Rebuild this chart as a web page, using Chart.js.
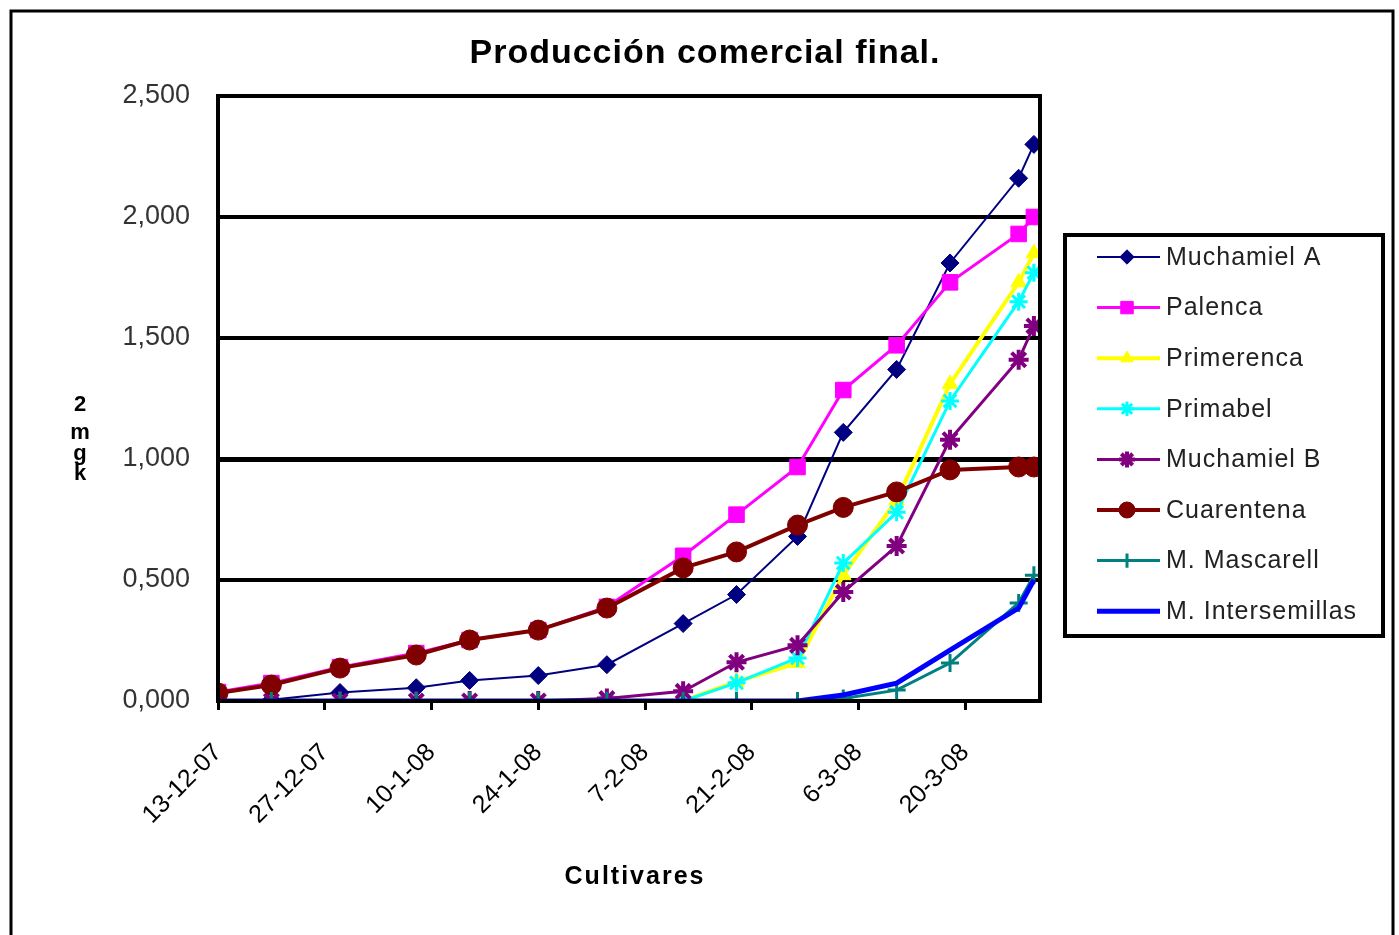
<!DOCTYPE html>
<html lang="es">
<head>
<meta charset="utf-8">
<title>Producción comercial final</title>
<script src="https://cdn.jsdelivr.net/npm/chart.js@4.4.1/dist/chart.umd.min.js"></script>
<style>
  html, body { margin: 0; padding: 0; background: #fff; }
  #grafico { display: block; }
</style>
</head>
<body>
<canvas id="grafico" width="1399" height="935"></canvas>
<script>
// dias contados desde el 13-12-07
const dias = [0, 7, 16, 26, 33, 42, 51, 61, 68, 76, 82, 89, 96, 105, 107];
const etiquetasFecha = ['13-12-07', '27-12-07', '10-1-08', '24-1-08', '7-2-08', '21-2-08', '6-3-08', '20-3-08'];
const etiquetasY = ['0,000', '0,500', '1,000', '1,500', '2,000', '2,500'];

const muchamielA    = [0, 0.005, 0.035, 0.055, 0.085, 0.105, 0.15, 0.32, 0.44, 0.68, 1.11, 1.37, 1.81, 2.16, 2.30];
const palenca       = [0.037, 0.074, 0.14, 0.198, 0.252, 0.293, 0.389, 0.60, 0.77, 0.967, 1.285, 1.47, 1.73, 1.93, 2.00];
const primerenca    = [0, 0, 0, 0, 0, 0, 0, 0, 0.08, 0.157, 0.52, 0.83, 1.31, 1.73, 1.85];
const primabel      = [0, 0, 0, 0, 0, 0, 0, 0, 0.075, 0.178, 0.57, 0.78, 1.24, 1.65, 1.77];
const muchamielB    = [0, 0, 0, 0, 0, 0, 0.01, 0.04, 0.16, 0.23, 0.45, 0.64, 1.08, 1.41, 1.55];
const cuarentena    = [0.033, 0.066, 0.136, 0.19, 0.252, 0.293, 0.384, 0.55, 0.616, 0.727, 0.80, 0.864, 0.955, 0.967, 0.967];
const mascarell     = [0, 0, 0, 0, 0, 0, 0, 0, 0, 0, 0.01, 0.045, 0.157, 0.405, 0.52];
const intersemillas = [0, 0, 0, 0, 0, 0, 0, 0, 0, 0, 0.025, 0.074, 0.21, 0.384, 0.50];

const series = [
    { nombre: 'Muchamiel A', datos: muchamielA, color: '#000080', grosor: 2, punto: 'rectRot', radio: 9, borde: 1 },
    { nombre: 'Palenca', datos: palenca, color: '#FF00FF', grosor: 3, punto: 'rect', radio: 11, borde: 1 },
    { nombre: 'Primerenca', datos: primerenca, color: '#FFFF00', grosor: 4, punto: 'triangle', radio: 9, borde: 1 },
    { nombre: 'Primabel', datos: primabel, color: '#00FFFF', grosor: 3, punto: 'star', radio: 9, borde: 3 },
    { nombre: 'Muchamiel B', datos: muchamielB, color: '#800080', grosor: 3, punto: 'star', radio: 10, borde: 4 },
    { nombre: 'Cuarentena', datos: cuarentena, color: '#800000', grosor: 4, punto: 'circle', radio: 10, borde: 1 },
    { nombre: 'M. Mascarell', datos: mascarell, color: '#008080', grosor: 3, punto: 'cross', radio: 9, borde: 3 },
    { nombre: 'M. Intersemillas', datos: intersemillas, color: '#0000FF', grosor: 5, punto: false, radio: 0, borde: 0 }
];

const fuente = 'Arial, "Liberation Sans", sans-serif';

function construirDatasets() {
    return series.map(function(s, i) {
        return {
            label: s.nombre,
            data: dias.map(function(d, j) { return { x: d, y: s.datos[j] }; }),
            borderColor: s.color,
            backgroundColor: s.color,
            borderWidth: s.grosor,
            pointStyle: s.punto,
            pointRadius: s.radio,
            pointBorderWidth: s.borde,
            pointBackgroundColor: s.color,
            pointBorderColor: s.color,
            tension: 0,
            order: series.length - i
        };
    });
}

const decorado = {
    id: 'decorado',
    beforeDraw: function(chart) {
        const ctx = chart.ctx;
        ctx.save();
        ctx.fillStyle = '#fff';
        ctx.fillRect(0, 0, chart.width, chart.height);
        ctx.restore();
    },
    afterDraw: function(chart) {
        const ctx = chart.ctx;
        const area = chart.chartArea;
        ctx.save();

        // marco exterior
        ctx.strokeStyle = '#000';
        ctx.lineWidth = 3;
        ctx.strokeRect(11, 11, 1382, 960);

        // borde del area de trazado
        ctx.lineWidth = 4;
        ctx.strokeRect(area.left, area.top, area.right - area.left, area.bottom - area.top);

        // titulo
        ctx.fillStyle = '#000';
        ctx.textAlign = 'center';
        ctx.textBaseline = 'middle';
        ctx.font = 'bold 34px ' + fuente;
        ctx.letterSpacing = '1px';
        ctx.fillText('Producción comercial final.', 705, 54);

        // titulo eje x
        ctx.font = 'bold 25px ' + fuente;
        ctx.letterSpacing = '2px';
        ctx.fillText('Cultivares', 635, 877);
        ctx.letterSpacing = '0px';

        // titulo eje y (letras apiladas)
        ctx.font = 'bold 22px ' + fuente;
        const letras = [['2', 405], ['m', 433], ['g', 454], ['k', 474]];
        letras.forEach(function(l) { ctx.fillText(l[0], 80, l[1]); });

        // leyenda
        ctx.lineWidth = 4;
        ctx.strokeRect(1065, 235, 318, 401);
        ctx.textAlign = 'left';
        ctx.font = '25px ' + fuente;
        ctx.letterSpacing = '1px';
        series.forEach(function(s, i) {
            const y = 257 + i * 50.6;
            ctx.strokeStyle = s.color;
            ctx.lineWidth = s.grosor;
            ctx.beginPath();
            ctx.moveTo(1097, y);
            ctx.lineTo(1160, y);
            ctx.stroke();
            if (s.punto) {
                ctx.fillStyle = s.color;
                ctx.lineWidth = s.borde;
                Chart.helpers.drawPoint(ctx, { pointStyle: s.punto, radius: s.radio * 0.8, borderWidth: s.borde, rotation: 0 }, 1127, y);
            }
            ctx.fillStyle = '#222';
            ctx.fillText(s.nombre, 1166, y + 1);
        });
        ctx.restore();
    }
};

const grafico = new Chart(document.getElementById('grafico'), {
    type: 'line',
    data: { datasets: construirDatasets() },
    plugins: [decorado],
    options: {
        responsive: false,
        animation: false,
        layout: { padding: { left: 118, right: 359, top: 96, bottom: 34 } },
        plugins: {
            legend: { display: false },
            title: { display: false },
            tooltip: { enabled: false }
        },
        scales: {
            x: {
                type: 'linear',
                min: 0,
                max: 107.8,
                afterFit: function(scale) { scale.height = 200; },
                afterBuildTicks: function(scale) {
                    scale.ticks = etiquetasFecha.map(function(_, i) { return { value: i * 14 }; });
                },
                ticks: {
                    callback: function(valor, indice) { return etiquetasFecha[indice]; },
                    autoSkip: false,
                    minRotation: 45,
                    maxRotation: 45,
                    padding: 28,
                    color: '#000',
                    font: { family: fuente, size: 25 }
                },
                grid: {
                    drawOnChartArea: false,
                    drawTicks: true,
                    tickLength: 9,
                    color: '#000',
                    lineWidth: 3
                },
                border: { display: true, color: '#000', width: 4 }
            },
            y: {
                min: 0,
                max: 2.5,
                afterFit: function(scale) { scale.width = 100; },
                ticks: {
                    stepSize: 0.5,
                    callback: function(valor) { return etiquetasY[Math.round(valor / 0.5)]; },
                    padding: 28,
                    color: '#333',
                    font: { family: fuente, size: 27 }
                },
                grid: {
                    color: '#000',
                    drawTicks: false,
                    lineWidth: function(c) { return c.tick && c.tick.value === 1 ? 5 : 4; }
                },
                border: { display: true, color: '#000', width: 4 }
            }
        }
    }
});
</script>
</body>
</html>
